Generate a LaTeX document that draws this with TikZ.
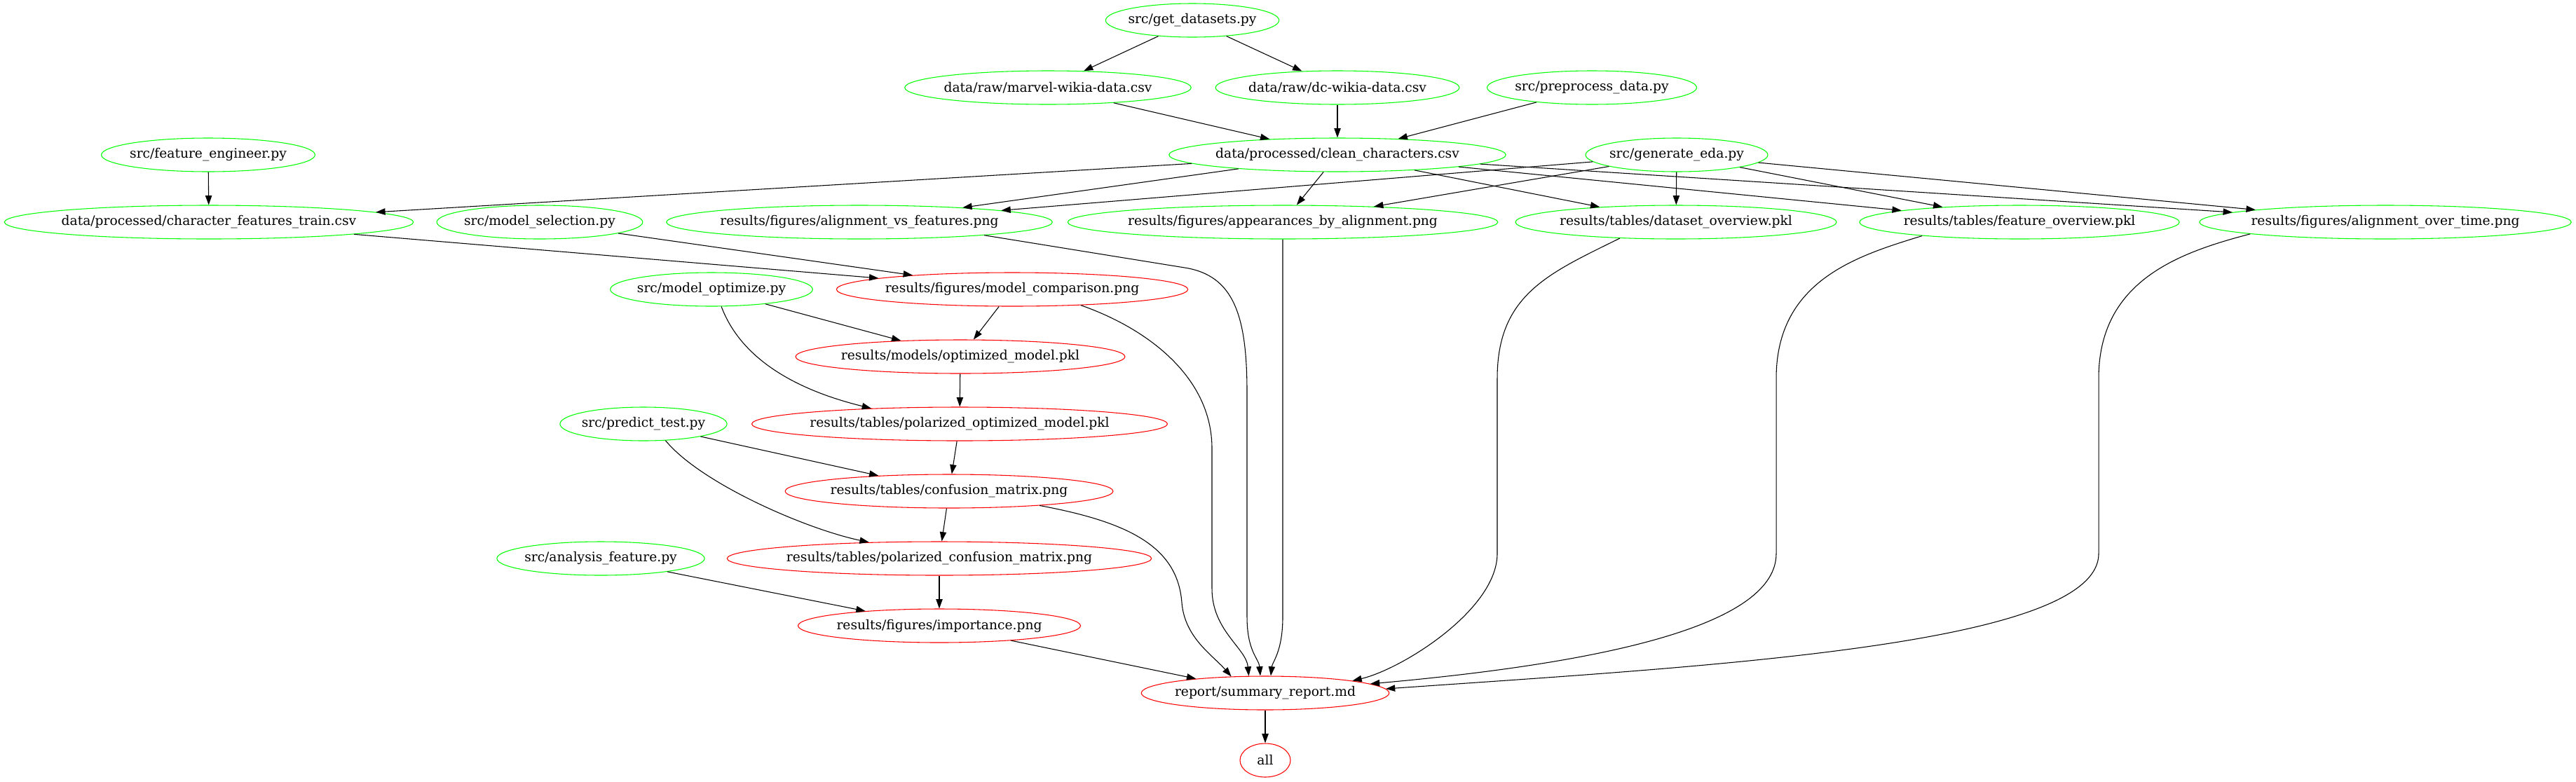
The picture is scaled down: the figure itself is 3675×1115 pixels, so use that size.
\documentclass[tikz,border=0pt]{standalone}
\usepackage{fontspec}
\setmainfont{DejaVu Serif}
\usetikzlibrary{arrows.meta,shapes.geometric}

\begin{document}
\begin{tikzpicture}[x=0.75pt,y=-0.75pt,
  target/.style={ellipse,draw,line width=0.8pt,inner xsep=-3pt,inner ysep=0pt,
    minimum width=54pt,minimum height=36pt,font=\fontsize{14}{17}\selectfont},
  fresh/.style={target,draw=green},
  stale/.style={target,draw=red},
  dep/.style={line width=0.8pt,-{Triangle[length=10pt,width=7pt]}}]
\useasboundingbox (0,0) rectangle (3675,1115);
% up to date files (green)
\node[fresh] (getd) at (1701,29) {src/get\_datasets.py};
\node[fresh] (marvel) at (1495,125) {data/raw/marvel-wikia-data.csv};
\node[fresh] (dc) at (1908,125) {data/raw/dc-wikia-data.csv};
\node[fresh] (prep) at (2271,125) {src/preprocess\_data.py};
\node[fresh] (feng) at (297,221) {src/feature\_engineer.py};
\node[fresh] (clean) at (1908,221) {data/processed/clean\_characters.csv};
\node[fresh] (geda) at (2392,221) {src/generate\_eda.py};
\node[fresh] (train) at (298,317) {data/processed/character\_features\_train.csv};
\node[fresh] (msel) at (770,317) {src/model\_selection.py};
\node[fresh] (avf) at (1226,317) {results/figures/alignment\_vs\_features.png};
\node[fresh] (app) at (1830,317) {results/figures/appearances\_by\_alignment.png};
\node[fresh] (dso) at (2391,317) {results/tables/dataset\_overview.pkl};
\node[fresh] (fov) at (2881,317) {results/tables/feature\_overview.pkl};
\node[fresh] (aot) at (3403,317) {results/figures/alignment\_over\_time.png};
\node[fresh] (mopt) at (1015,413) {src/model\_optimize.py};
\node[fresh] (pred) at (918,605) {src/predict\_test.py};
\node[fresh] (anf) at (857,797) {src/analysis\_feature.py};
% targets to rebuild (red)
\node[stale] (mcmp) at (1444,413) {results/figures/model\_comparison.png};
\node[stale] (omod) at (1370,509) {results/models/optimized\_model.pkl};
\node[stale] (pom) at (1369,605) {results/tables/polarized\_optimized\_model.pkl};
\node[stale] (conf) at (1354,701) {results/tables/confusion\_matrix.png};
\node[stale] (pconf) at (1340,797) {results/tables/polarized\_confusion\_matrix.png};
\node[stale] (imp) at (1340,893) {results/figures/importance.png};
\node[stale] (rep) at (1805,989) {report/summary\_report.md};
\node[stale] (alltgt) at (1805,1085) {all};
% straight dependencies
\foreach \a/\b in {getd/marvel,getd/dc,marvel/clean,dc/clean,prep/clean,feng/train,
  clean/train,clean/avf,clean/app,clean/dso,clean/fov,clean/aot,
  geda/avf,geda/app,geda/dso,geda/fov,geda/aot,train/mcmp,msel/mcmp,
  mcmp/omod,mopt/omod,omod/pom,pom/conf,pred/conf,conf/pconf,pconf/imp,
  anf/imp,imp/rep,rep/alltgt}
  \draw[dep] (\a) -- (\b);
% bent ones
\draw[dep] (mopt.-60) .. controls (1060,520) and (1150,560) .. (pom.170);
\draw[dep] (pred.-37) .. controls (1000,690) and (1150,755) .. (pconf.167);
% long edges into the report
\draw[dep] (mcmp.-13) .. controls (1640,470) and (1729,540) .. (1729,640) -- (1729,840)
  .. controls (1729,900) and (1778,925) .. (rep.134);
\draw[dep] (avf.-6) -- (1690,382) .. controls (1760,393) and (1779,450) .. (1779,560)
  -- (1779,880) .. controls (1779,930) and (1796,940) .. (rep.106);
\draw[dep] (app) -- (1830,880) .. controls (1830,930) and (1815,945) .. (rep.72);
\draw[dep] (conf.-9) .. controls (1610,745) and (1680,780) .. (1686,860)
  .. controls (1690,910) and (1730,935) .. (rep.154);
\draw[dep] (dso.196) .. controls (2210,390) and (2136,420) .. (2136,540) -- (2136,790)
  .. controls (2136,870) and (2000,955) .. (rep.8);
\draw[dep] (fov.188) .. controls (2650,365) and (2534,400) .. (2534,540) -- (2534,790)
  .. controls (2534,890) and (2300,945) .. (rep.5);
\draw[dep] (aot.185) .. controls (3110,360) and (2994,400) .. (2994,540) -- (2994,790)
  .. controls (2994,920) and (2450,950) .. (rep.2);
\end{tikzpicture}
\end{document}
